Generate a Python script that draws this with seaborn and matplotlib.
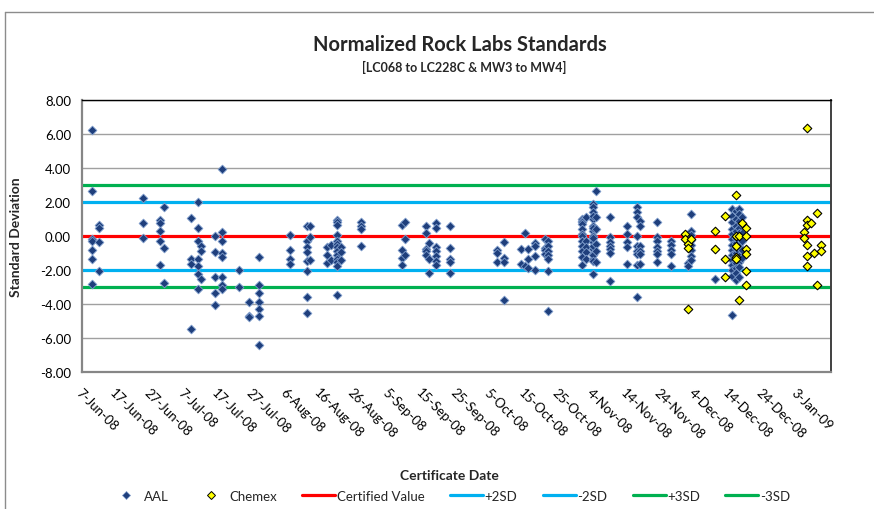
import matplotlib
matplotlib.use("Agg")
import matplotlib.pyplot as plt
from matplotlib.lines import Line2D
from matplotlib.ticker import FuncFormatter
import pandas as pd
import seaborn as sns

# ---- data -----------------------------------------------------------------
TITLE = "Normalized Rock Labs Standards"
SUBTITLE = "[LC068 to LC228C & MW3 to MW4]"
X_LABEL = "Certificate Date"
Y_LABEL = "Standard Deviation"

# AAL results, grouped by certificate date
aal_groups = [
    ("2008-06-10", [6.24, 2.63, -0.18, -0.27, -0.84, -1.37, -2.84]),
    ("2008-06-12", [0.66, 0.47, -0.37, -2.04]),
    ("2008-06-25", [2.22, 0.78, -0.12]),
    ("2008-06-30", [0.94, 0.78, 0.31, -0.29, -1.71]),
    ("2008-07-01", [1.69, -0.72, -2.76]),
    ("2008-07-09", [1.08, -1.37, -1.65, -5.49]),
    ("2008-07-11", [1.98, 0.49, -0.29, -1.37, -1.78, -2.24, -3.10]),
    ("2008-07-12", [-0.57, -0.86, -2.51]),
    ("2008-07-16", [0.02, -0.96, -2.43, -3.37, -4.04]),
    ("2008-07-18", [3.94, 0.25, -0.29, -1.02, -1.25, -2.43, -2.90, -3.10]),
    ("2008-07-23", [-1.98, -2.98]),
    ("2008-07-26", [-3.86, -4.68, -4.78]),
    ("2008-07-29", [-1.25, -2.90, -3.37, -3.90, -4.29, -4.69, -6.41]),
    ("2008-08-07", [0.05, -0.85, -1.37, -1.65]),
    ("2008-08-12", [0.57, -0.29, -0.63, -0.92, -1.45, -2.08, -3.58, -4.52]),
    ("2008-08-13", [0.57, -0.04, -1.39]),
    ("2008-08-18", [-0.63, -1.10, -1.59]),
    ("2008-08-19", [-0.51, -1.39]),
    ("2008-08-21", [0.94, 0.80, 0.66, 0.08, -0.27, -0.47, -0.67, -0.90,
                    -1.10, -1.35, -1.55, -1.75, -3.45]),
    ("2008-08-22", [-0.63, -0.96, -1.41]),
    ("2008-08-28", [0.80, 0.61, 0.41, -0.59]),
    ("2008-09-09", [0.66, -0.82, -1.27, -1.73]),
    ("2008-09-10", [0.83, -0.20, -1.11]),
    ("2008-09-16", [0.61, 0.20, -0.74, -0.90, -1.13]),
    ("2008-09-17", [-0.39, -1.35, -2.18]),
    ("2008-09-19", [0.78, 0.47, -0.67, -0.90, -1.18, -1.45, -1.72]),
    ("2008-09-23", [0.61, -0.73, -1.37, -1.55, -2.19]),
    ("2008-10-07", [-0.82, -1.00, -1.51]),
    ("2008-10-09", [-0.37, -1.29, -1.51, -3.76]),
    ("2008-10-14", [-0.76, -1.65]),
    ("2008-10-15", [0.18, -1.78]),
    ("2008-10-16", [-0.76, -1.35, -1.90]),
    ("2008-10-18", [-0.41, -0.57, -1.20, -1.98]),
    ("2008-10-21", [-0.20, -0.70, -0.80, -1.05]),
    ("2008-10-22", [-0.30, -0.57, -0.86, -1.10, -1.35, -2.08, -4.39]),
    ("2008-11-01", [1.00, 0.90, 0.80, 0.70, 0.41, 0.12, 0.02, -0.27, -0.57,
                    -0.86, -1.25, -1.71]),
    ("2008-11-02", [1.10, -0.27, -0.67, -0.96, -1.35]),
    ("2008-11-04", [1.88, 1.69, 1.39, 1.00, 0.61, 0.31, 0.02, -0.37, -0.76,
                    -1.06, -1.35, -2.24, 1.20, 0.50, -0.10, -0.60, -1.10,
                    -1.45]),
    ("2008-11-05", [2.67, 1.10, 0.41, -0.47, -0.86, -1.51]),
    ("2008-11-09", [1.10, -0.08, -0.37, -0.57, -0.76, -1.00, -2.66]),
    ("2008-11-14", [0.61, 0.12, -0.37, -0.67, -1.65]),
    ("2008-11-17", [1.69, 1.39, 1.10, 0.02, -0.57, -0.86, -1.06, -1.71, -3.61]),
    ("2008-11-18", [0.90, 0.61, -0.57, -0.86, -1.06, -1.65]),
    ("2008-11-23", [0.80, -0.08, -0.27, -0.67, -0.86, -1.06, -1.55]),
    ("2008-11-27", [-0.27, -0.53, -0.80, -1.06, -1.78]),
    ("2008-12-02", [-1.60, -1.75]),
    ("2008-12-03", [1.27, 0.30, 0.05, -0.25, -0.55, -0.85, -1.15, -1.40]),
    ("2008-12-10", [-2.50]),
    ("2008-12-15", [1.60, 1.20, 0.80, 0.40, 0.10, -0.20, -0.50, -0.80, -1.10,
                    -1.40, -1.70, -2.00, -2.33, -4.63]),
    ("2008-12-16", [1.50, 1.00, 0.60, 0.30, -0.10, -0.40, -0.70, -1.00,
                    -1.30, -1.60, -1.90, -2.20, -2.60]),
    ("2008-12-17", [1.60, 1.30, 0.90, 0.50, 0.20, -0.30, -0.60, -0.90, -1.20,
                    -1.50, -1.80, -2.40]),
    ("2008-12-18", [1.10, 0.70, 0.20, -0.30, -0.80, -1.30]),
]

# Chemex results, grouped by certificate date
chemex_groups = [
    ("2008-12-01", [0.10, -0.20]),
    ("2008-12-02", [-0.45, -0.73, -4.30]),
    ("2008-12-03", [-0.18]),
    ("2008-12-10", [0.28, -0.76]),
    ("2008-12-13", [1.15, -1.38, -2.43]),
    ("2008-12-16", [2.42, -0.02, -0.57, -1.22, -1.37]),
    ("2008-12-17", [0.00, -3.77]),
    ("2008-12-18", [0.75]),
    ("2008-12-19", [0.49, 0.00, -0.78, -1.06, -2.04, -2.88]),
    ("2009-01-05", [0.22, -0.13]),
    ("2009-01-06", [6.35, 0.95, 0.63, -0.51, -1.18, -1.75]),
    ("2009-01-07", [0.79]),
    ("2009-01-08", [-0.98]),
    ("2009-01-09", [1.34, -2.86]),
    ("2009-01-10", [-0.51, -0.91]),
]

# control limits, in standard deviations
certified_value = 0.0
limit_2sd = 2.0
limit_3sd = 3.0

y_ticks = [-8, -6, -4, -2, 0, 2, 4, 6, 8]
x_start, x_end = "2008-06-07", "2009-01-13"
x_tick_dates = pd.date_range("2008-06-07", "2009-01-03", freq="10D")
x_tick_labels = [f"{d.day}-{d.strftime('%b-%y')}" for d in x_tick_dates]
legend_labels = ["AAL", "Chemex", "Certified Value", "+2SD", "-2SD",
                 "+3SD", "-3SD"]


def to_frame(groups, lab):
    rows = [(pd.Timestamp(d), v) for d, vals in groups for v in vals]
    df = pd.DataFrame(rows, columns=["Date", "Value"])
    df["Lab"] = lab
    return df


aal = to_frame(aal_groups, "AAL")
chemex = to_frame(chemex_groups, "Chemex")

# ---- figure ---------------------------------------------------------------
sns.set_theme(style="white")
plt.rcParams["font.family"] = ["Lato", "DejaVu Sans"]

W, H = 874, 510
fig = plt.figure(figsize=(W / 100, H / 100), dpi=100)
ax = fig.add_axes([82 / W, 1 - 373 / H, (831 - 82) / W, (373 - 101) / H])

# horizontal gridlines
for t in y_ticks:
    ax.axhline(t, color="#a0a0a0", lw=1.0, zorder=1)

red, blue, green = "#ff0000", "#00b0f0", "#00b050"
ax.axhline(certified_value, color=red, lw=2.3, zorder=2)
ax.axhline(limit_2sd, color=blue, lw=2.3, zorder=2)
ax.axhline(-limit_2sd, color=blue, lw=2.3, zorder=2)
ax.axhline(limit_3sd, color=green, lw=2.3, zorder=2)
ax.axhline(-limit_3sd, color=green, lw=2.3, zorder=2)

navy = "#1f3f7c"
sns.scatterplot(data=aal, x="Date", y="Value", ax=ax, marker="D", s=20,
                color=navy, edgecolor="#7d9ccb", linewidth=0.6, zorder=4,
                legend=False)
sns.scatterplot(data=chemex, x="Date", y="Value", ax=ax, marker="D", s=19,
                color="#ffff00", edgecolor="black", linewidth=0.8, zorder=5,
                legend=False)

ax.set_xlim(pd.Timestamp(x_start), pd.Timestamp(x_end))
ax.set_ylim(-8, 8)
ax.set_yticks(y_ticks)
ax.yaxis.set_major_formatter(FuncFormatter(lambda v, p: f"{v:.2f}"))
ax.set_xticks(x_tick_dates)
ax.set_xticklabels(x_tick_labels, rotation=-45, ha="left", va="top",
                   rotation_mode="anchor")
ax.tick_params(axis="both", labelsize=9.5, colors="#000000",
               length=4, width=1, direction="out")
ax.tick_params(axis="x", pad=6, color="#868686")
ax.tick_params(axis="y", pad=4, color="#868686")
ax.grid(False)

for side in ("left", "bottom"):
    ax.spines[side].set_color("#868686")
    ax.spines[side].set_linewidth(1.6)
ax.spines["top"].set_color("#000000")
ax.spines["top"].set_linewidth(1.0)
ax.spines["right"].set_color("#404040")
ax.spines["right"].set_linewidth(1.4)
for s in ax.spines.values():
    s.set_zorder(6)

ax.set_xlabel(X_LABEL, fontsize=10, fontweight="bold", labelpad=0)
ax.xaxis.set_label_coords(0.49, (373 - 470) / (373 - 101))
ax.set_ylabel(Y_LABEL, fontsize=10, fontweight="bold")
ax.yaxis.set_label_coords((22 - 82) / (831 - 82), 0.5)

fig.text(460 / W, 1 - 45 / H, TITLE, ha="center", va="center",
         fontsize=14.5, fontweight="bold")
fig.text(464 / W, 1 - 67 / H, SUBTITLE, ha="center", va="center",
         fontsize=9, fontweight="bold")

# chart-area frame
fig.add_artist(Line2D([5 / W, 5 / W], [0, 1 - 13 / H], color="#8c8c8c",
                      lw=1.0, transform=fig.transFigure))
fig.add_artist(Line2D([5 / W, 1], [1 - 13 / H, 1 - 13 / H], color="#8c8c8c",
                      lw=1.0, transform=fig.transFigure))

handles = [
    Line2D([], [], ls="none", marker="D", ms=4, color=navy,
           markeredgecolor="#7d9ccb", markeredgewidth=0.5),
    Line2D([], [], ls="none", marker="D", ms=4.5, color="#ffff00",
           markeredgecolor="black", markeredgewidth=0.7),
    Line2D([], [], color=red, lw=2.3),
    Line2D([], [], color=blue, lw=2.3),
    Line2D([], [], color=blue, lw=2.3),
    Line2D([], [], color=green, lw=2.3),
    Line2D([], [], color=green, lw=2.3),
]
fig.legend(handles, legend_labels, loc="center",
           bbox_to_anchor=(450 / W, 1 - 497 / H),
           ncol=7, frameon=False, fontsize=9.5, handlelength=2.5,
           handletextpad=0.15, columnspacing=1.9)

fig.savefig("out.png", dpi=100)
